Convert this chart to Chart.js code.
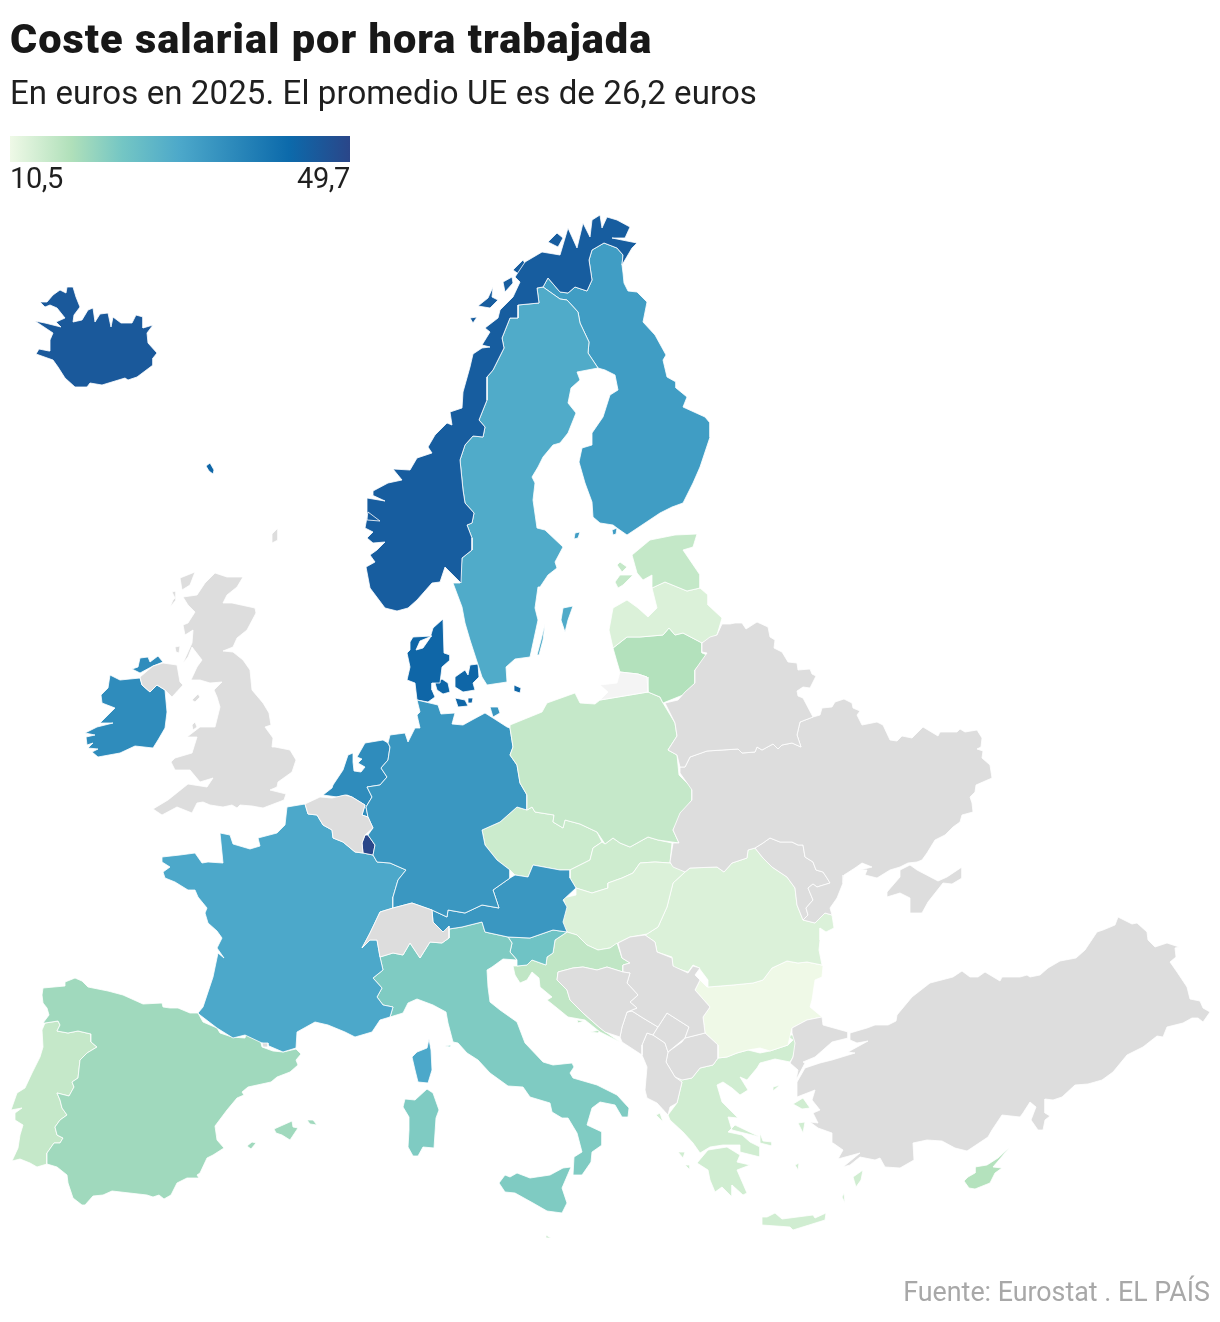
<!DOCTYPE html>
<html lang="es">
<head>
<meta charset="utf-8">
<title>Coste salarial por hora trabajada</title>
<script src="https://cdn.jsdelivr.net/npm/chart.js@4"></script>
<style>
  html, body { margin: 0; padding: 0; background: #fff; overflow: hidden; }
  #page { position: relative; width: 1220px; height: 1322px; }
  #mapa { position: absolute; left: 0; top: 0; }
  #page div { position: absolute; white-space: nowrap; line-height: 1; }
  #titulo { left: 10px; top: 18px; font-family: Roboto, sans-serif; font-weight: 900; font-size: 41.5px; letter-spacing: 1px; color: #181818; }
  #subtitulo { left: 10px; top: 76px; font-family: Roboto, sans-serif; font-weight: 400; font-size: 33px; letter-spacing: .1px; color: #1f1f1f; }
  #barra { left: 10px; top: 136px; width: 340px; height: 26px; }
  #minimo { left: 10px; top: 164px; font-family: Roboto, sans-serif; font-size: 29px; color: #1f1f1f; letter-spacing: -.4px; }
  #maximo { right: 870px; top: 164px; font-family: Roboto, sans-serif; font-size: 29px; color: #1f1f1f; letter-spacing: -.4px; }
  #fuente { right: 10px; top: 1279px; font-family: Roboto, sans-serif; font-size: 26.8px; color: #a8a8a8; }
</style>
</head>
<body>
<div id="page">
  <canvas id="mapa" width="1220" height="1322"></canvas>
  <div id="titulo">Coste salarial por hora trabajada</div>
  <div id="subtitulo">En euros en 2025. El promedio UE es de 26,2 euros</div>
  <div id="barra"></div>
  <div id="minimo">10,5</div>
  <div id="maximo">49,7</div>
  <div id="fuente">Fuente: Eurostat . EL PAÍS</div>
</div>
<script>
const paises = ['Islandia','Noruega','Suecia','Finlandia','Estonia','Letonia','Lituania','Polonia','Alemania','Dinamarca','Paises Bajos','Luxemburgo','Francia','Austria','Italia','Eslovenia','Croacia','Hungria','Eslovaquia','Chequia','Rumania','Bulgaria','Grecia','Chipre','Espana','Portugal','Irlanda','Malta'];
const salarios = [46.0,45.2,29.4,32.4,15.3,12.7,17.2,15.2,33.6,43.4,35.8,49.7,30.1,33.6,22.4,24.2,15.8,12.7,14.2,14.5,12.7,10.5,14.0,17.1,19.1,15.2,35.8,14.8];
const escalaMin = 10.5;
const escalaMax = 49.7;
const escalaPos = [0,0.18,0.33,0.5,0.82,1];
const escalaCol = [[239,249,231],[176,224,186],[116,198,196],[76,168,202],[12,106,171],[42,70,137]];

// contornos: pares x,y en las unidades del mapa
const islandia = [40,302,47,302,53,295,60,290,66,293,67,287,73,287,76,297,80,307,74,315,73,322,82,320,88,310,93,308,95,322,100,314,108,313,111,327,113,317,121,323,132,323,136,315,143,317,143,328,153,325,147,333,148,343,157,353,153,358,153,365,137,377,128,380,125,378,102,385,90,383,87,387,75,387,65,378,58,367,53,360,36,354,39,349,49,351,50,340,53,333,35,321,45,323,61,327,56,322,65,318,57,308,50,305,45,307];
const noruega = [370,588,366,567,375,562,370,555,377,550,385,542,373,543,367,538,373,532,365,528,368,512,380,521,367,520,367,498,385,501,372,495,373,491,388,483,402,480,393,469,410,470,417,458,432,453,428,447,435,435,447,423,452,425,450,412,462,408,463,392,470,367,473,354,482,348,490,347,482,345,490,332,485,328,498,318,500,310,513,297,520,282,515,277,525,262,542,252,560,255,568,228,577,248,583,223,590,237,592,220,600,215,602,228,607,217,617,220,630,227,625,238,612,238,637,243,632,248,622,265,623,255,617,248,604,243,592,250,589,260,592,280,587,291,575,287,568,293,560,292,548,278,543,287,537,288,539,303,518,305,518,318,510,318,502,338,504,348,493,370,487,377,487,400,479,420,485,427,483,437,473,436,465,445,460,460,463,490,465,503,474,513,472,523,467,525,472,538,472,550,462,558,461,583,445,567,440,582,432,583,417,600,408,608,397,611,385,608];
const lofoten = [470,318,477,317,473,323];
const vesteralen = [478,306,488,298,493,287,492,297,498,300,490,308];
const senja = [503,282,512,277,513,283,505,292];
const kvaloya = [513,270,523,260,527,267,520,275];
const soroya = [548,242,557,233,563,238,558,247];
const suecia = [537,288,543,287,560,299,567,300,578,312,580,323,589,342,588,353,598,368,577,372,580,380,571,388,568,403,576,413,568,433,560,443,553,445,543,457,538,467,532,477,535,483,533,500,537,528,545,530,563,547,555,562,557,568,548,575,540,587,538,587,535,608,538,620,530,657,515,659,506,667,507,682,487,685,482,677,470,640,465,623,462,607,453,583,460,583,462,558,472,550,472,538,467,525,472,523,474,513,465,503,463,490,460,460,465,445,473,436,483,437,485,427,479,420,487,400,487,377,493,370,504,348,502,338,510,318,518,318,518,305,539,303];
const gotland = [563,608,573,606,568,620,565,632,561,620];
const oland = [545,624,541,640,537,655,539,655,543,640];
const finlandia = [604,243,617,248,623,255,622,265,623,273,624,283,628,291,637,292,647,302,643,322,655,335,666,355,663,360,667,377,676,382,676,388,687,397,683,407,705,417,710,423,710,437,700,467,693,483,683,503,672,507,660,513,627,535,617,528,613,525,600,523,593,517,592,502,585,483,579,462,582,448,592,445,592,433,603,417,610,395,618,390,615,375,605,370,598,368,588,353,589,342,580,323,578,312,567,300,560,299,543,287,548,278,560,292,568,293,575,287,587,291,592,280,589,260,592,250];
const aland = [575,533,580,532,578,538,574,539];
const kimito = [612,530,617,528,616,534,613,535];
const estonia = [632,555,650,540,675,535,697,534,693,547,683,550,700,575,700,588,687,591,665,582,652,588,652,575,643,580,637,573];
const saaremaa = [615,582,620,575,633,575,623,585,618,588];
const hiiumaa = [617,565,620,562,627,567,622,572];
const letonia = [652,588,665,582,687,591,700,588,708,595,708,605,722,618,717,635,702,643,683,633,675,635,669,628,663,635,640,637,627,637,613,648,609,630,613,608,627,600,638,608,648,617,657,608];
const lituania = [613,648,627,637,640,637,663,635,669,628,675,635,683,633,702,643,702,653,707,655,695,670,695,683,683,695,663,703,660,697,648,692,647,677,638,674,620,672,617,662];
const kaliningrado = [620,672,638,674,647,677,648,692,600,700,608,692,600,685,617,683];
const polonia = [510,725,542,712,547,703,575,693,580,703,595,704,600,700,648,692,660,697,663,703,675,723,677,736,668,750,677,755,679,775,692,788,692,800,680,817,673,830,679,843,658,840,648,837,630,847,620,843,613,838,605,844,597,832,580,824,565,820,563,828,553,822,554,815,535,812,532,807,527,810,527,795,520,783,517,765,510,755,513,747,510,728];
const alemania = [417,700,438,705,441,714,455,713,452,724,463,725,472,720,485,713,493,718,507,727,510,728,513,747,510,755,517,765,520,783,527,795,527,810,517,807,500,822,482,830,485,845,497,860,510,870,510,878,493,890,499,908,482,905,465,913,448,910,447,917,432,910,412,903,393,908,393,897,398,880,406,870,390,863,377,862,373,855,375,845,368,835,373,828,368,817,366,807,372,797,367,787,380,785,387,777,381,768,388,760,390,747,388,743,390,735,405,733,408,742,415,728,420,728,417,715,420,712];
const rugen = [490,707,498,707,500,713,493,717];
const jutlandia = [443,619,444,653,450,655,450,660,442,667,440,683,432,683,432,690,435,697,428,702,417,700,415,683,407,680,410,667,407,653,410,650,410,642,413,637,432,636,420,641,416,650,423,648,430,638,433,628];
const fionia = [435,683,442,679,448,683,450,692,443,694,437,690];
const selandia = [455,677,465,670,468,675,470,665,478,664,479,677,473,683,475,690,463,692,455,687];
const lolland = [455,698,465,700,468,706,458,707];
const falster = [468,698,473,698,472,703,468,703];
const bornholm = [514,685,521,688,520,693,514,691];
const feroe = [206,466,210,463,214,470,213,474,209,471];
const paisesBajos = [388,743,383,740,365,743,357,757,362,759,358,763,365,767,361,772,354,771,353,762,353,753,348,755,343,770,333,785,332,788,323,795,337,797,347,795,352,797,365,805,362,815,368,817,366,807,372,797,367,787,380,785,387,777,381,768,388,760,390,747];
const belgica = [305,804,320,797,332,798,345,795,352,797,365,805,362,815,368,817,373,828,365,835,362,843,363,853,355,852,343,842,333,838,332,830,323,825,317,815,308,814];
const luxemburgo = [365,835,368,835,375,845,373,855,363,853,362,843];
const francia = [305,804,308,814,317,815,323,825,332,830,333,838,343,842,355,852,363,853,373,855,377,862,390,863,406,870,398,880,393,897,393,908,380,912,370,933,362,948,370,940,377,940,380,957,383,970,373,978,382,988,377,997,383,1005,393,1007,390,1017,380,1020,372,1032,355,1037,345,1032,328,1025,315,1022,297,1032,296,1048,283,1052,262,1043,245,1035,233,1038,217,1028,200,1015,198,1013,203,1007,213,977,218,953,224,958,217,948,222,938,217,931,208,923,205,913,207,908,198,897,195,890,188,890,175,882,165,878,163,872,170,867,162,862,162,857,180,855,195,853,202,863,208,862,223,863,220,833,230,835,233,844,250,849,260,846,258,838,277,833,285,825,287,807];
const corcega = [429,1039,431,1050,432,1070,428,1083,418,1082,415,1070,412,1057,417,1052,427,1048];
const suiza = [362,948,370,933,380,912,393,908,412,903,432,910,433,922,443,932,449,926,449,938,442,943,430,942,420,958,410,943,403,955,393,953,380,957,377,940,370,940];
const austria = [510,878,515,875,528,877,533,865,560,870,570,870,570,878,576,888,563,900,567,907,563,922,567,932,553,930,530,938,508,937,485,932,482,922,462,927,449,929,443,932,433,922,432,910,447,917,448,910,465,913,482,905,499,908,493,890];
const italia = [380,957,393,953,403,955,410,943,420,958,430,942,442,943,449,938,449,929,462,927,482,922,485,932,508,937,512,943,510,952,517,960,503,959,492,967,487,970,488,987,490,1002,500,1010,517,1022,525,1043,543,1062,553,1065,572,1063,574,1067,570,1073,573,1078,597,1085,617,1095,629,1108,628,1117,622,1117,615,1105,600,1102,592,1108,587,1125,602,1132,602,1145,592,1152,591,1162,582,1175,573,1175,574,1157,582,1152,577,1133,568,1118,562,1118,552,1112,550,1103,540,1100,530,1097,523,1087,508,1086,490,1073,478,1060,467,1053,458,1043,453,1042,448,1023,446,1012,433,1005,417,999,408,1003,403,1013,390,1017,393,1007,383,1005,377,997,382,988,373,978,383,970];
const sicilia = [499,1183,505,1175,510,1177,517,1173,530,1178,550,1175,563,1168,571,1167,562,1188,567,1203,562,1213,547,1211,533,1203,515,1193,505,1192];
const cerdena = [427,1089,433,1093,439,1110,436,1118,434,1148,423,1147,418,1156,413,1156,408,1147,409,1130,409,1117,403,1107,405,1099,415,1100];
const elba = [445,1046,451,1045,450,1047];
const eslovenia = [508,937,530,938,553,930,567,932,555,940,553,953,547,957,546,965,532,960,527,965,517,966,517,960,510,952,512,943];
const croacia = [567,932,577,935,587,945,598,950,610,948,617,943,622,958,630,963,623,965,623,972,607,967,597,970,583,967,573,968,558,972,557,980,567,990,570,1000,583,1013,600,1028,607,1033,620,1042,600,1032,585,1020,568,1017,557,1008,547,1000,552,997,540,987,539,978,532,972,527,980,520,983,515,975,513,966,517,966,527,965,532,960,546,965,547,957,553,953,555,940];
const hvar = [577,1020,584,1021,578,1023];
const korcula = [590,1032,600,1030,598,1033];
const bosnia = [558,972,573,968,583,967,597,970,607,967,623,972,630,973,627,983,638,995,630,1002,637,1008,627,1012,622,1027,620,1037,605,1032,600,1028,583,1013,570,1000,567,990,557,980];
const serbia = [618,943,630,937,645,935,655,942,657,952,672,958,673,966,688,973,693,966,700,968,695,975,700,980,695,990,710,1007,703,1017,705,1033,685,1038,689,1027,667,1013,658,1027,643,1018,632,1011,627,1012,637,1008,630,1002,638,995,627,983,630,973,623,972,623,965,630,963,622,958];
const kosovo = [667,1013,689,1027,685,1038,668,1052,665,1043,653,1035,658,1027];
const montenegro = [632,1011,643,1018,658,1027,653,1035,647,1033,642,1045,642,1055,622,1042,620,1037,622,1027,627,1012];
const albania = [647,1033,653,1035,665,1043,668,1052,666,1062,675,1077,682,1082,677,1103,670,1107,668,1115,657,1103,647,1098,645,1090,647,1067,642,1055,642,1045];
const macedonia = [668,1052,682,1042,685,1038,705,1033,718,1045,718,1058,713,1065,700,1068,692,1078,682,1080,675,1077,666,1062];
const hungria = [576,888,592,893,608,888,608,883,622,878,633,873,640,863,655,862,670,863,685,872,673,883,667,907,658,927,647,934,630,937,618,943,610,948,598,950,587,945,577,935,567,932,562,922,566,907,563,898,576,895];
const eslovaquia = [570,870,590,860,593,848,602,842,605,844,613,838,620,843,630,847,648,837,658,840,672,843,670,863,655,862,640,863,633,873,622,878,608,883,608,888,592,893,576,888,570,878];
const chequia = [482,830,500,822,517,807,527,810,532,807,535,812,554,815,553,822,563,828,565,820,580,824,597,832,602,842,593,848,590,860,570,870,560,870,533,865,528,877,515,875,510,870,497,860,485,845];
const rumania = [685,872,690,868,717,867,724,872,732,863,747,858,748,850,755,848,763,858,772,867,787,877,795,888,797,905,803,920,815,923,825,913,832,915,834,928,826,932,820,928,820,940,819,950,822,965,807,962,798,963,787,961,772,968,763,980,753,983,733,985,708,987,708,980,699,968,693,965,688,972,673,967,672,957,660,953,657,952,655,942,645,935,647,934,658,927,667,907,673,883];
const bulgaria = [708,987,733,985,753,983,763,980,772,968,787,961,798,963,807,962,822,965,823,966,822,977,815,980,812,1000,810,1007,822,1017,807,1020,792,1028,788,1045,770,1051,760,1048,748,1050,737,1053,727,1057,718,1058,718,1045,705,1033,703,1017,710,1007,695,990,700,980,707,987];
const turquiaEuropa = [790,1063,793,1057,795,1043,792,1033,792,1028,807,1020,822,1017,823,1025,848,1032,848,1038,832,1042,815,1057,803,1062,805,1063,796,1080,798,1070];
const anatolia = [850,1033,867,1028,875,1025,888,1025,896,1021,897,1015,912,997,930,983,953,977,962,971,970,977,978,977,985,972,1000,981,1002,977,1011,977,1020,977,1027,975,1030,977,1040,975,1048,968,1060,961,1076,958,1085,950,1097,932,1103,930,1115,925,1118,917,1132,924,1137,923,1147,932,1148,940,1155,947,1167,943,1179,947,1175,948,1176,957,1170,962,1177,972,1187,987,1190,999,1200,1001,1203,1008,1210,1012,1203,1022,1198,1018,1192,1018,1183,1023,1167,1027,1163,1037,1157,1036,1143,1047,1127,1055,1113,1072,1102,1080,1088,1084,1075,1085,1062,1097,1053,1100,1045,1099,1045,1113,1050,1116,1045,1120,1043,1130,1038,1130,1031,1120,1036,1107,1030,1102,1023,1113,1020,1117,1002,1115,992,1130,988,1137,967,1151,955,1148,942,1141,927,1140,913,1143,914,1160,900,1168,885,1167,880,1158,875,1160,860,1157,850,1165,843,1167,860,1153,838,1159,843,1150,833,1143,832,1133,818,1128,810,1122,818,1123,813,1113,820,1110,812,1100,815,1090,797,1097,797,1082,805,1068,820,1063,832,1060,855,1053,848,1052,868,1041,857,1043,850,1040];
const chipre = [1010,1147,998,1158,987,1165,975,1167,975,1173,968,1177,964,1181,969,1188,975,1189,990,1183,995,1173,1002,1168,993,1167];
const grecia = [675,1077,682,1080,692,1078,700,1068,713,1065,718,1058,727,1057,737,1053,748,1050,760,1053,770,1051,788,1045,793,1040,785,1035,795,1035,797,1042,793,1057,790,1062,775,1059,760,1063,757,1068,747,1080,740,1077,748,1090,740,1095,732,1088,723,1082,717,1085,722,1102,738,1118,728,1117,732,1130,760,1137,735,1125,728,1132,742,1135,750,1142,760,1147,760,1157,740,1152,740,1145,723,1145,710,1147,700,1153,693,1143,683,1132,670,1120,668,1115,677,1103,682,1082];
const peloponeso = [697,1163,708,1150,727,1147,740,1155,737,1162,750,1165,737,1170,747,1193,743,1195,732,1185,732,1197,722,1187,715,1192,710,1180,708,1170];
const creta = [762,1217,767,1217,775,1213,782,1219,813,1215,815,1218,826,1213,825,1220,793,1230,790,1227,762,1225];
const lesbos = [793,1104,803,1098,810,1108,802,1109];
const quios = [798,1123,805,1122,803,1133];
const rodas = [853,1177,863,1170,861,1180,856,1187];
const karpathos = [842,1197,844,1193,845,1203];
const lemnos = [773,1087,780,1085,773,1091];
const naxos = [795,1165,799,1163,798,1170];
const eubea = [760,1133,763,1141,772,1142,772,1146,760,1143];
const corfu = [656,1115,660,1113,663,1122];
const cefalonia = [678,1152,685,1152,683,1158];
const zante = [685,1165,690,1165,690,1170];
const malta = [546,1235,551,1238,546,1238];
const mallorca = [274,1129,292,1121,293,1127,298,1128,290,1140,282,1135,276,1133];
const menorca = [307,1120,313,1120,317,1125,310,1124];
const ibiza = [247,1146,252,1142,256,1143,251,1149];
const espana = [42,995,43,988,65,986,65,982,75,978,82,981,88,987,108,991,123,995,143,1004,162,1003,163,1007,170,1008,178,1008,190,1013,198,1013,203,1022,217,1028,220,1033,232,1037,245,1038,246,1034,260,1039,262,1047,273,1051,283,1052,296,1049,301,1054,296,1060,298,1065,290,1072,277,1077,271,1082,248,1087,242,1092,244,1095,237,1098,227,1110,215,1126,217,1140,224,1148,213,1155,207,1158,200,1173,197,1175,199,1178,187,1178,177,1183,171,1195,164,1199,159,1195,153,1197,147,1195,112,1191,103,1195,93,1196,85,1205,82,1205,73,1198,68,1183,67,1175,57,1167,47,1164,47,1153,54,1143,60,1143,63,1138,57,1135,55,1127,60,1120,67,1115,62,1108,60,1100,57,1093,69,1096,74,1087,72,1082,78,1078,80,1060,87,1053,97,1047,91,1042,91,1034,78,1031,68,1033,57,1031,60,1025,58,1021,45,1023,43,1023,49,1015,47,1008,43,1003];
const portugal = [45,1023,58,1021,60,1025,57,1031,68,1033,78,1031,91,1034,91,1042,97,1047,87,1053,80,1060,78,1078,72,1082,74,1087,69,1096,57,1093,60,1100,62,1108,67,1115,60,1120,55,1127,57,1135,63,1138,60,1143,54,1143,47,1153,47,1164,37,1167,30,1163,20,1159,12,1161,18,1148,20,1135,23,1125,15,1120,15,1113,22,1108,11,1110,17,1093,25,1088,32,1073,40,1057,43,1047,42,1030];
const andorra = [262,1043,268,1043,268,1047,263,1047];
const granBretana = [215,573,227,577,243,577,237,587,227,595,223,603,232,603,255,608,256,613,247,630,237,638,233,647,223,651,233,652,243,660,250,670,252,690,263,703,269,713,271,725,265,727,273,738,272,747,275,747,290,750,296,760,292,772,278,782,277,787,270,790,286,794,284,800,263,808,252,806,240,805,237,808,232,805,223,807,210,805,203,802,197,803,192,813,177,807,162,815,153,809,168,800,183,788,188,784,207,787,213,778,200,782,190,770,175,770,171,762,175,758,192,753,197,737,187,737,200,727,215,727,220,707,217,697,214,690,222,682,210,683,200,680,191,680,197,667,202,660,192,647,188,657,183,663,192,643,193,630,185,635,183,625,188,623,195,612,188,605,183,597,197,595,205,583];
const hebridas = [180,578,195,572,190,585,182,590];
const skye = [170,607,173,600,175,598,172,592,176,591,176,600];
const islay = [175,647,180,646,179,653,176,652];
const anglesey = [192,725,195,722,197,727,193,730];
const man = [192,700,198,694,200,697,195,702];
const shetland = [272,534,278,528,278,540,272,543];
const irlandaNorte = [140,677,153,666,163,663,177,665,180,682,183,685,172,697,165,690,157,685,150,692,142,685];
const irlanda = [110,675,120,680,140,678,142,685,150,692,157,685,165,690,167,712,165,728,158,740,153,748,135,746,120,753,98,757,92,752,98,749,88,748,93,743,87,745,86,737,95,735,85,733,97,727,113,723,100,723,115,708,102,703,101,695,108,688];
const donegal = [132,669,138,667,140,658,148,657,150,662,158,656,163,662,153,666,140,673];
const bielorrusia = [702,643,710,637,717,635,722,624,730,624,735,623,742,623,746,629,757,622,768,627,770,637,775,640,774,648,782,652,788,662,797,663,798,670,810,669,812,674,816,676,810,688,803,687,797,691,798,696,803,698,813,717,800,722,797,735,801,747,792,743,782,745,778,749,773,744,762,750,757,747,755,752,742,753,738,749,707,751,690,757,685,767,680,767,677,755,668,750,677,736,675,723,665,703,678,700,685,692,695,683,695,670,702,660,707,653,702,652];
const ucrania = [680,767,685,767,690,757,707,751,738,749,742,753,755,752,757,747,762,750,773,744,778,749,782,745,792,743,801,747,797,735,800,722,813,717,820,715,822,708,832,707,835,702,844,699,852,703,853,708,860,711,857,715,862,725,877,722,883,725,890,740,897,741,902,736,912,738,923,727,938,736,940,732,957,732,960,729,965,732,977,730,982,738,981,747,977,749,983,751,982,758,990,765,992,778,976,785,975,792,970,797,972,803,973,812,962,815,960,822,953,827,945,835,935,840,927,853,922,860,917,862,908,863,900,867,890,870,877,878,865,875,867,870,860,870,872,867,862,863,855,868,844,875,843,883,837,898,830,908,832,915,825,913,815,923,803,920,808,915,806,908,813,900,808,888,813,884,817,887,830,883,827,878,823,872,816,870,813,862,805,857,803,845,798,845,792,842,780,842,770,838,763,843,755,848,748,850,747,858,732,863,724,872,717,867,690,868,685,872,673,867,670,862,673,843,679,843,673,830,680,813,692,800,692,790,680,773];
const moldavia = [755,848,763,843,770,838,780,842,792,842,798,845,803,845,805,857,813,862,816,870,823,872,827,878,830,883,817,887,813,884,808,888,813,900,806,908,808,915,803,920,797,905,795,888,787,877,772,867,763,858];
const crimea = [900,870,910,865,917,870,938,881,947,877,962,867,962,878,952,884,943,883,928,902,922,913,910,913,910,898,900,893,887,897,887,892,900,877];

// trozos de cada pais, en el mismo orden que paises
const contornos = [[islandia],[noruega,lofoten,vesteralen,senja,kvaloya,soroya],[suecia,gotland,oland],[finlandia,aland,kimito],[estonia,saaremaa,hiiumaa],[letonia],[lituania],[polonia],[alemania,rugen],[jutlandia,fionia,selandia,lolland,falster,bornholm,feroe],[paisesBajos],[luxemburgo],[francia,corcega],[austria],[italia,sicilia,cerdena,elba],[eslovenia],[croacia,hvar,korcula],[hungria],[eslovaquia],[chequia],[rumania],[bulgaria],[grecia,peloponeso,creta,lesbos,quios,rodas,karpathos,lemnos,naxos,eubea,corfu,cefalonia,zante],[chipre],[espana,mallorca,menorca,ibiza],[portugal],[irlanda,donegal],[malta]];
const sinDato = [granBretana,hebridas,skye,islay,anglesey,man,shetland,irlandaNorte,belgica,suiza,andorra,bosnia,serbia,kosovo,montenegro,albania,macedonia,turquiaEuropa,anatolia,bielorrusia,ucrania,moldavia,crimea];

function colorDe(valor) {
  const t = (valor - escalaMin) / (escalaMax - escalaMin);
  let i = 0;
  while (i < escalaPos.length - 2 && t > escalaPos[i + 1]) i++;
  const f = (t - escalaPos[i]) / (escalaPos[i + 1] - escalaPos[i]);
  const c = escalaCol[i].map((v, k) => Math.round(v + (escalaCol[i + 1][k] - v) * f));
  return `rgb(${c[0]},${c[1]},${c[2]})`;
}

function trozo(nombre, plano, color) {
  const data = [];
  for (let i = 0; i < plano.length; i += 2) data.push({ x: plano[i], y: plano[i + 1] });
  data.push({ x: plano[0], y: plano[1] });
  return {
    label: nombre,
    data: data,
    showLine: true,
    fill: 'shape',
    backgroundColor: color,
    borderColor: '#fff',
    borderWidth: 0.8,
    pointRadius: 0,
    tension: 0
  };
}

const datasets = [];
sinDato.forEach(t => datasets.push(trozo('Sin dato', t, '#dddddd')));
datasets.push(trozo('Kaliningrado', kaliningrado, '#f4f4f4'));
paises.forEach((p, i) => {
  contornos[i].forEach(t => datasets.push(trozo(p, t, colorDe(salarios[i]))));
});

new Chart(document.getElementById('mapa'), {
  type: 'scatter',
  data: { datasets: datasets },
  options: {
    responsive: false,
    animation: false,
    layout: { padding: 0 },
    plugins: { legend: { display: false }, tooltip: { enabled: false } },
    scales: {
      x: { type: 'linear', min: 0, max: 1220, display: false },
      y: { type: 'linear', min: 0, max: 1322, reverse: true, display: false }
    }
  }
});

document.getElementById('barra').style.background = 'linear-gradient(to right,' +
  escalaPos.map((p, i) => `rgb(${escalaCol[i].join(',')}) ${p * 100}%`).join(',') + ')';
</script>
</body>
</html>
